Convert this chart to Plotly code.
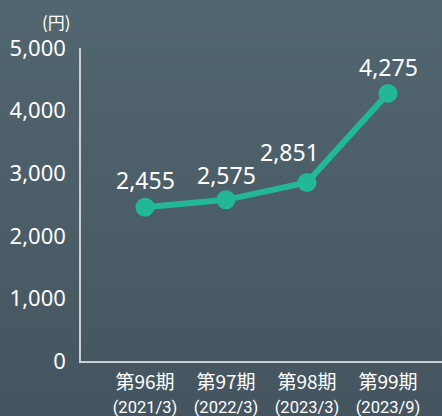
import base64
import plotly.graph_objects as go

periods = ["第96期", "第97期", "第98期", "第99期"]
dates = ["(2021/3)", "(2022/3)", "(2023/3)", "(2023/9)"]
values = [2455, 2575, 2851, 4275]
value_labels = ["2,455", "2,575", "2,851", "4,275"]
label_xshift = [0, 0, -18, 0]
label_yshift = [27, 25, 31, 26]
y_ticks = [0, 1000, 2000, 3000, 4000, 5000]
y_ticktext = ["0", "1,000", "2,000", "3,000", "4,000", "5,000"]
unit_label = "(円)"

W, H = 442, 416
L, R, T, B = 81, 0, 48, 55
pw, ph = W - L - R, H - T - B

svg = ('<svg xmlns="http://www.w3.org/2000/svg" width="442" height="416" preserveAspectRatio="none">'
       '<defs><linearGradient id="g" x1="0" y1="0" x2="0" y2="1">'
       '<stop offset="0" stop-color="#52666f"/><stop offset="1" stop-color="#45555f"/>'
       '</linearGradient></defs><rect width="442" height="416" fill="url(#g)"/></svg>')
bg_src = "data:image/svg+xml;base64," + base64.b64encode(svg.encode()).decode()

xidx = list(range(len(periods)))
ticktext = [f"<span style='font-size:19px'>{p}</span><br>"
            f"<span style='font-size:16.5px;font-family:Roboto'>{d}</span>"
            for p, d in zip(periods, dates)]

fig = go.Figure()
fig.add_trace(go.Scatter(
    x=xidx, y=values, mode="lines+markers",
    line=dict(color="#22b896", width=6),
    marker=dict(color="#22b896", size=19, line=dict(width=0)),
    hoverinfo="skip", cliponaxis=False,
))
for xi, v, t, xs, ys in zip(xidx, values, value_labels, label_xshift, label_yshift):
    fig.add_annotation(x=xi, y=v, text=t, showarrow=False, xshift=xs, yshift=ys,
                       font=dict(size=23, color="#ffffff", family="Noto Sans"))
fig.add_annotation(xref="paper", yref="paper", x=-8 / pw, y=1 + 27 / ph, text=unit_label,
                   showarrow=False, xanchor="right", yanchor="middle",
                   font=dict(size=17, color="#ffffff", family="Noto Sans CJK JP"))

fig.update_layout(
    width=W, height=H,
    margin=dict(l=L, r=R, t=T, b=B, pad=0),
    paper_bgcolor="#4c5e69", plot_bgcolor="rgba(0,0,0,0)",
    showlegend=False,
    images=[dict(source=bg_src, xref="paper", yref="paper", x=-L / pw, y=1 + T / ph,
                 sizex=W / pw, sizey=H / ph, xanchor="left", yanchor="top",
                 sizing="stretch", layer="below")],
    xaxis=dict(range=[-64 / 81, 3 + 54 / 81], tickvals=xidx, ticktext=ticktext,
               showgrid=False, zeroline=False, showline=True, linecolor="#c9cfd3", linewidth=1.5,
               ticks="outside", ticklen=3, tickcolor="rgba(0,0,0,0)",
               tickfont=dict(color="#ffffff", family="Noto Sans CJK JP", size=19),
               fixedrange=True),
    yaxis=dict(range=[0, 5000], tickvals=y_ticks, ticktext=y_ticktext,
               showgrid=False, zeroline=False, showline=True, linecolor="#c9cfd3", linewidth=1.5,
               ticks="outside", ticklen=9, tickcolor="rgba(0,0,0,0)",
               tickfont=dict(color="#ffffff", family="Noto Sans", size=22),
               fixedrange=True),
)
fig.write_html("out.html", config={"displayModeBar": False},
               post_script="document.body.style.margin='0';document.body.style.overflow='hidden';")
